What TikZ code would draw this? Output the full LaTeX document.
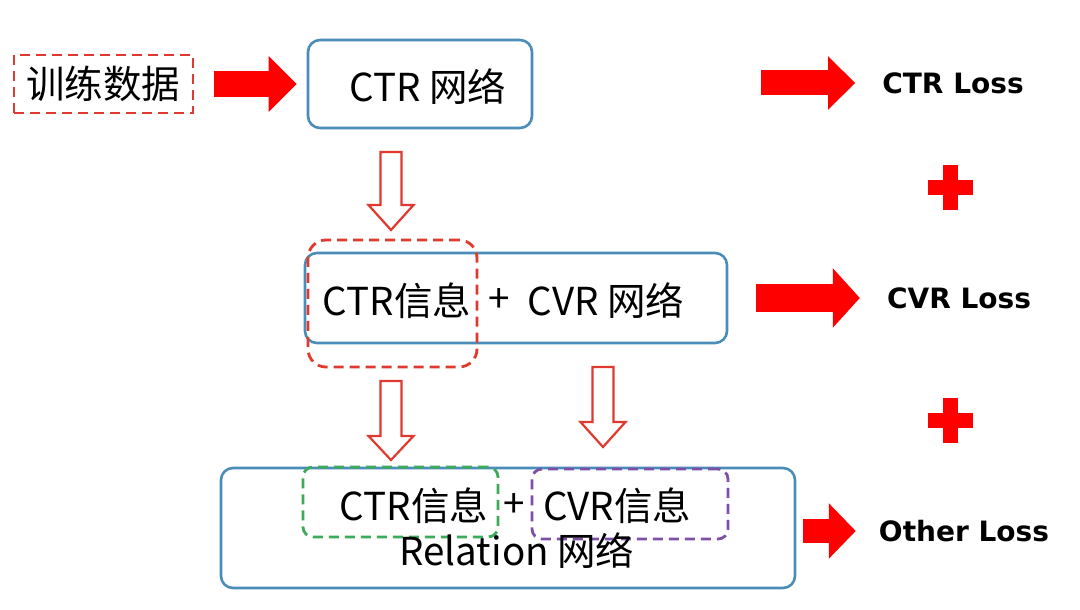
\documentclass[tikz,border=0pt]{standalone}
\usepackage{fontspec}
\setmainfont{Noto Sans CJK SC}
\newfontfamily\lossfont{DejaVu Sans}[BoldFont={DejaVu Sans Bold}]
\usetikzlibrary{arrows.meta}
\definecolor{boxblue}{HTML}{4A8DB9}
\definecolor{dashred}{HTML}{E03A30}
\definecolor{dashgreen}{HTML}{3DAA5C}
\definecolor{dashpurple}{HTML}{7E4FA6}
\definecolor{arrred}{HTML}{FF0000}
\newcommand{\hollowdown}[4]{%
  \draw[hollowarrow] (#1-10.5,#2) -- (#1+10.5,#2) -- (#1+10.5,#3) -- (#1+22.5,#3)
    -- (#1,#4) -- (#1-22.5,#3) -- (#1-10.5,#3) -- cycle;}
\begin{document}
\begin{tikzpicture}[x=1pt,y=-1pt,
  netbox/.style={draw=boxblue,line width=2.6pt,rounded corners=12pt,inner sep=0pt},
  dashbox/.style={draw=#1,line width=2.8pt,dash pattern=on 10pt off 6pt,inner sep=0pt},
  txt/.style={font=\fontsize{38.5}{40}\selectfont,inner sep=0pt},
  losstxt/.style={font=\lossfont\bfseries\fontsize{28}{30}\selectfont,inner sep=0pt},
  hollowarrow/.style={draw=dashred,line width=2.2pt,fill=white,line join=miter},
]
\useasboundingbox[fill=white] (0,0) rectangle (1080,610);

% nodes
\node[dashbox=dashred,minimum width=179,minimum height=58,txt] (data) at (103.5,84) {训练数据};
\node[netbox,minimum width=224,minimum height=88] (ctr) at (420,84) {};
\node[txt] (ctrtxt) at (428,87) {CTR 网络};

\node[netbox,minimum width=422,minimum height=90] (cvr) at (516,298) {};
\node[dashbox=dashred,rounded corners=18pt,minimum width=169,minimum height=127] (ctrinfo) at (392.5,303.5) {};
\node[txt] (t1) at (397,301) {CTR信息};
\node[txt] (t2) at (499,301) {+};
\node[txt] (t3) at (606,301) {CVR 网络};

\node[netbox,minimum width=574,minimum height=120] (rel) at (508,528) {};
\node[dashbox=dashgreen,rounded corners=10pt,minimum width=195,minimum height=70] (g) at (400.5,502) {};
\node[dashbox=dashpurple,rounded corners=10pt,minimum width=196,minimum height=70] (p) at (630,504) {};
\node[txt] (r1) at (414,506) {CTR信息};
\node[txt] (r2) at (514,506) {+};
\node[txt] (r3) at (617,506) {CVR信息};
\node[txt] (r4) at (517,551) {Relation 网络};

\node[losstxt] (l1) at (953,83) {CTR Loss};
\node[losstxt] (l2) at (959,298) {CVR Loss};
\node[losstxt] (l3) at (964,531) {Other Loss};

% filled red arrows
\draw[arrred,line width=26pt,-{Triangle[width=54pt,length=28pt]},shorten <=20pt,shorten >=10pt]
  (data.east) -- (ctr.west |- data.east);
\draw[arrred,line width=25pt,-{Triangle[width=52pt,length=27pt]},shorten <=228pt,shorten >=27pt]
  (ctr.east |- l1.west) -- (l1.west);
\draw[arrred,line width=28pt,-{Triangle[width=58pt,length=27pt]},shorten <=28pt,shorten >=27pt]
  (cvr.east |- l2.west) -- (l2.west);
\draw[arrred,line width=24pt,-{Triangle[width=54pt,length=27pt]},shorten <=7pt,shorten >=23pt]
  (rel.east |- l3.west) -- (l3.west);

% hollow arrows
\hollowdown{391}{152}{205}{230}
\hollowdown{391}{381}{436}{460}
\hollowdown{603}{367}{422}{447}

% plus signs
\foreach \cy in {187,420}{
  \fill[arrred] (950-22.5,\cy-7.5) rectangle (950+22.5,\cy+7.5);
  \fill[arrred] (950-7.5,\cy-22.5) rectangle (950+7.5,\cy+22.5);
}
\end{tikzpicture}
\end{document}
